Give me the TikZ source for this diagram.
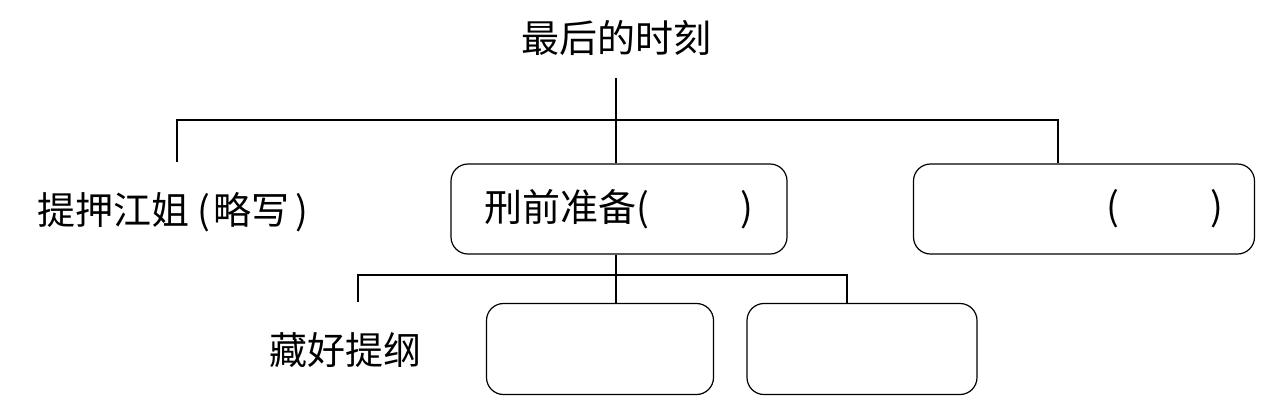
\documentclass[tikz,border=0pt]{standalone}
\usepackage{fontspec}
\newfontfamily\cjk{Noto Sans CJK SC}
\begin{document}
\begin{tikzpicture}[x=1pt,y=-1pt,line width=1.2pt,
        box/.style={draw,rounded corners=17pt,inner sep=0pt},
        txt/.style={font=\cjk\fontsize{38}{40}\selectfont,inner sep=0pt}]
    \useasboundingbox (0,0) rectangle (1272,405);

    % top level
    \node[txt] (title) at (616,38) {最后的时刻};
    \coordinate (stem) at (616,78);
    \coordinate (bar) at (1058,120);

    % second level
    \node[txt] (yajie) at (173,212) {提押江姐\hspace{0.2em}(\hspace{0.1em}略写\hspace{0.15em})};
    \coordinate (yajietop) at (177,162);
    \node[box,txt,minimum width=336pt,minimum height=90pt] (xingqian) at (619,209) {刑前准备(\hspace{2.4em})};
    \node[box,minimum width=341pt,minimum height=90pt] (third) at (1084,209) {};
    \node[txt] (thirdtext) at (1165,209) {(\hspace{2.4em})};

    % third level
    \node[txt] (tigang) at (345,350) {藏好提纲};
    \coordinate (tigangtop) at (358,302);
    \coordinate (bar2) at (847,275);
    \node[box,minimum width=227pt,minimum height=91pt] (sub1) at (600,349) {};
    \node[box,minimum width=230pt,minimum height=91pt] (sub2) at (862,349) {};

    % connectors
    \draw (stem) -- (stem |- xingqian.north);
    \draw (yajietop) |- (bar) -- (bar |- third.north);
    \draw (stem |- xingqian.south) -- (stem |- sub1.north);
    \draw (tigangtop) |- (bar2) -- (bar2 |- sub2.north);
\end{tikzpicture}
\end{document}
